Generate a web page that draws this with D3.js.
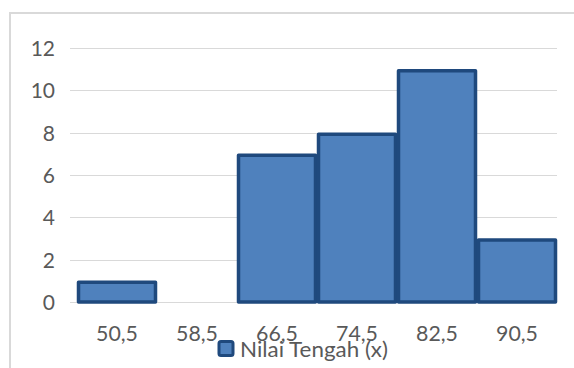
<!DOCTYPE html>
<html><head><meta charset="utf-8">
<script src="https://cdn.jsdelivr.net/npm/d3@7"></script>
<style>body{margin:0;background:#fff}svg{display:block}</style>
</head><body>
<script>
const categories = ["50,5","58,5","66,5","74,5","82,5","90,5"];
const values = [1, 0, 7, 8, 11, 3];
const yTicks = [0, 2, 4, 6, 8, 10, 12];
const seriesName = "Nilai Tengah (x)";

const W = 574, H = 368;
const svg = d3.select("body").append("svg").attr("width", W).attr("height", H);
const font = "Lato, 'Open Sans', sans-serif";

// chart border (cropped)
svg.append("rect").attr("x", 10).attr("y", 13).attr("width", 600).attr("height", 400)
  .attr("fill", "#fff").attr("stroke", "#D9D9D9").attr("stroke-width", 2);

const x = d3.scaleBand().domain(categories).range([77, 557]).padding(0);
const y = d3.scaleLinear().domain([0, 12]).range([302, 48]);

// gridlines
svg.append("g").selectAll("line").data(yTicks).join("line")
  .attr("x1", 70).attr("x2", 557)
  .attr("y1", d => Math.round(y(d)) + 0.5).attr("y2", d => Math.round(y(d)) + 0.5)
  .attr("stroke", "#D9D9D9").attr("stroke-width", 1);

// y labels
svg.append("g").selectAll("text").data(yTicks).join("text")
  .attr("x", 55).attr("y", d => y(d) + 8)
  .attr("text-anchor", "end").attr("font-family", font).attr("font-size", 21)
  .attr("fill", "#595959").text(d => d);

// bars
svg.append("g").selectAll("rect").data(values.map((v, i) => ({c: categories[i], v})).filter(d => d.v > 0))
  .join("rect")
  .attr("x", d => x(d.c) + 1.5).attr("width", x.bandwidth() - 3)
  .attr("y", d => y(d.v) + 1.5).attr("height", d => y(0) - y(d.v) - 1.5)
  .attr("fill", "#4F81BD").attr("stroke", "#1F497D").attr("stroke-width", 3.5)
  .attr("stroke-linejoin", "round");

// x labels
svg.append("g").selectAll("text").data(categories).join("text")
  .attr("x", d => x(d) + x.bandwidth() / 2).attr("y", 341)
  .attr("text-anchor", "middle").attr("font-family", font).attr("font-size", 21)
  .attr("textLength", 42).attr("lengthAdjust", "spacingAndGlyphs")
  .attr("fill", "#595959").text(d => d);

// legend
const lg = svg.append("g");
lg.append("rect").attr("x", 219).attr("y", 341.5).attr("width", 14).attr("height", 14)
  .attr("fill", "#4F81BD").attr("stroke", "#1F497D").attr("stroke-width", 3).attr("rx", 2);
lg.append("text").attr("x", 240).attr("y", 357).attr("font-family", font).attr("font-size", 21)
  .attr("textLength", 148).attr("lengthAdjust", "spacingAndGlyphs")
  .attr("fill", "#595959").text(seriesName);
</script>
</body></html>
